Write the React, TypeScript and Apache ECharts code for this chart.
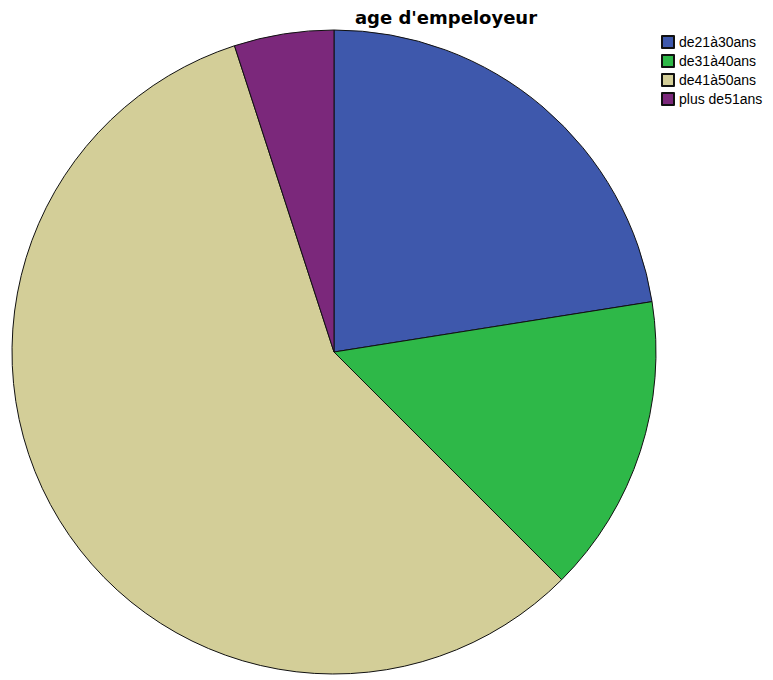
import React, { useEffect, useRef } from "react";
import * as echarts from "echarts";

const categories = ["de21à30ans", "de31à40ans", "de41à50ans", "plus de51ans"];
const values = [9, 6, 23, 2];
const colors = ["#3E58AC", "#2EB848", "#D3CE98", "#7B287B"];
const title = "age d'empeloyeur";

export default function App() {
  const ref = useRef<HTMLDivElement>(null);
  useEffect(() => {
    document.body.style.margin = "0";
    const chart = echarts.init(ref.current!, null, { renderer: "svg" });
    chart.setOption({
      animation: false,
      backgroundColor: "#fff",
      title: {
        text: title,
        left: 441,
        textAlign: "center",
        top: 3,
        textStyle: { fontFamily: "DejaVu Sans", fontSize: 18, fontWeight: "bold", color: "#000" },
      },
      legend: {
        orient: "vertical",
        left: 656,
        top: 30,
        itemWidth: 12,
        itemHeight: 12,
        itemGap: 5,
        icon: "rect",
        textStyle: { fontFamily: "Liberation Sans, Arial", fontSize: 14, lineHeight: 12, color: "#000" },
        data: categories,
      },
      series: [
        {
          type: "pie",
          center: [334, 352],
          radius: 322,
          startAngle: 90,
          clockwise: true,
          label: { show: false },
          labelLine: { show: false },
          emphasis: { disabled: true },
          itemStyle: { borderColor: "#111", borderWidth: 1 },
          data: categories.map((c, i) => ({ name: c, value: values[i], itemStyle: { color: colors[i] } })),
        },
      ],
    });
    return () => chart.dispose();
  }, []);
  return <div ref={ref} style={{ width: 773, height: 680 }} />;
}
